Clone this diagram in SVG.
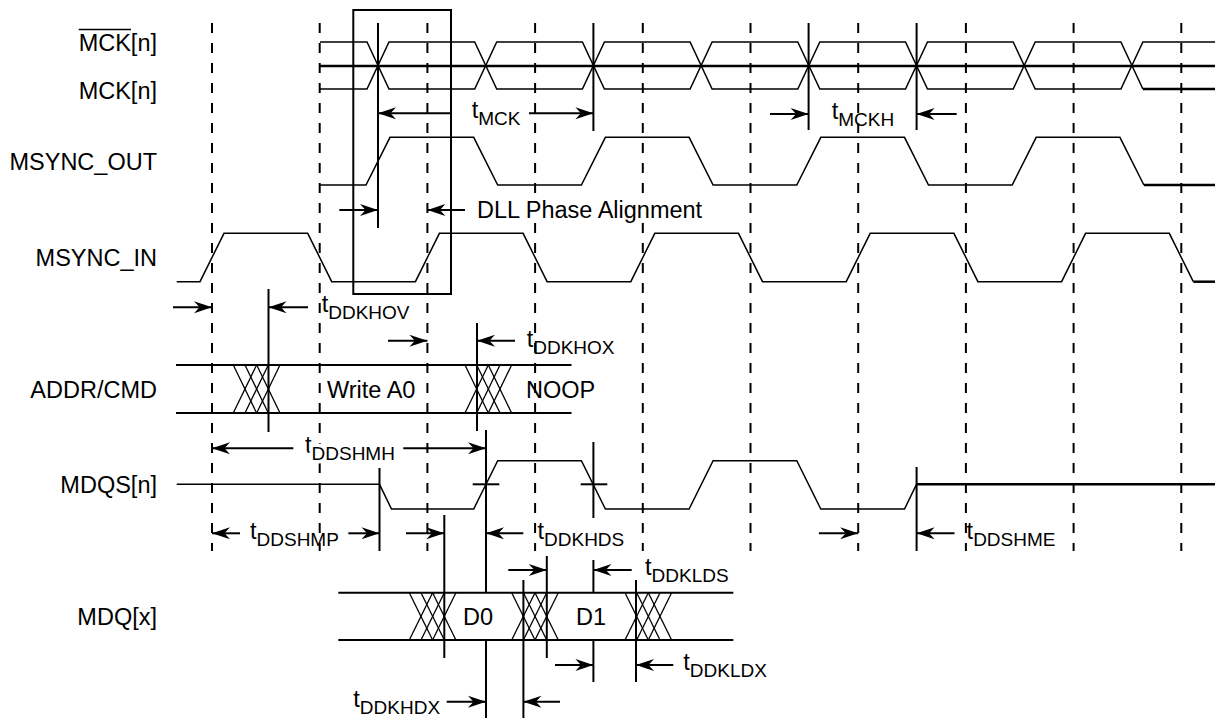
<svg xmlns="http://www.w3.org/2000/svg" width="1215" height="719" viewBox="0 0 1215 719">
<style>
text{font-family:"Liberation Sans",Arial,sans-serif;font-size:23.5px;fill:#000}
.lbl{text-anchor:end}
.sub{font-size:19px}
.halo{paint-order:stroke;stroke:#fff;stroke-width:7px;stroke-linejoin:round}
.sig{fill:none;stroke:#000;stroke-width:1.5;stroke-linejoin:miter}
.thick{fill:none;stroke:#000;stroke-width:2.5}
.bus{stroke:#000;stroke-width:2}
.xl{stroke:#000;stroke-width:1.3}
.dash{stroke:#000;stroke-width:2;stroke-dasharray:10 10}
.vl{stroke:#000;stroke-width:2}
.arr{stroke:#000;stroke-width:2;marker-end:url(#ah)}
.box{fill:none;stroke:#000;stroke-width:2}
</style>
<defs>
<marker id="ah" viewBox="-19 -7 20 14" refX="0" refY="0" markerWidth="20" markerHeight="14" markerUnits="userSpaceOnUse" orient="auto">
<path d="M0,0 L-18,-6 L-12.5,0 L-18,6 Z" fill="#000"/>
</marker>
</defs>
<rect width="1215" height="719" fill="#fff"/>

<g id="grid">
<line class="dash" x1="212" y1="23" x2="212" y2="551"/>
<line class="dash" x1="319.7" y1="23" x2="319.7" y2="551"/>
<line class="dash" x1="427.4" y1="23" x2="427.4" y2="551"/>
<line class="dash" x1="535.1" y1="23" x2="535.1" y2="551"/>
<line class="dash" x1="642.8" y1="23" x2="642.8" y2="551"/>
<line class="dash" x1="750.5" y1="23" x2="750.5" y2="551"/>
<line class="dash" x1="858.2" y1="23" x2="858.2" y2="551"/>
<line class="dash" x1="965.9" y1="23" x2="965.9" y2="551"/>
<line class="dash" x1="1073.6" y1="23" x2="1073.6" y2="551"/>
<line class="dash" x1="1181.3" y1="23" x2="1181.3" y2="551"/>
</g>

<g id="mck_bar">
<text class="lbl" x="157" y="51">MCK[n]</text>
<line x1="78.7" y1="29.5" x2="131" y2="29.5" stroke="#000" stroke-width="1.6"/>
<path class="sig" d="M320,42 L367,42 L389,89 L474.7,89 L496.7,42 L582.4,42 L604.4,89 L690.1,89 L712.1,42 L797.8,42 L819.8,89 L905.5,89 L927.5,42 L1013.2,42 L1035.2,89 L1120.9,89 L1142.9,42 L1215,42"/>
</g>
<g id="mck">
<text class="lbl" x="157" y="99">MCK[n]</text>
<path class="sig" d="M320,89 L367,89 L389,42 L474.7,42 L496.7,89 L582.4,89 L604.4,42 L690.1,42 L712.1,89 L797.8,89 L819.8,42 L905.5,42 L927.5,89 L1013.2,89 L1035.2,42 L1120.9,42 L1142.9,89"/>
<line class="thick" x1="1142.9" y1="89" x2="1215" y2="89"/>
<line class="thick" x1="320" y1="66" x2="1215" y2="66"/>
</g>

<g id="msync_out">
<text class="lbl" x="157" y="170">MSYNC_OUT</text>
<path class="sig" d="M320,185 L366,185 L390,137.3 L473.7,137.3 L497.7,185 L581.4,185 L605.4,137.3 L689.1,137.3 L713.1,185 L796.8,185 L820.8,137.3 L904.5,137.3 L928.5,185 L1012.2,185 L1036.2,137.3 L1119.9,137.3 L1143.9,185"/>
<line class="thick" x1="1143.9" y1="185" x2="1215" y2="185"/>
</g>

<g id="msync_in">
<text class="lbl" x="157" y="266">MSYNC_IN</text>
<path class="sig" d="M176.7,281.7 L200,281.7 L224,233.3 L307.7,233.3 L331.7,281.7 L415.4,281.7 L439.4,233.3 L523.1,233.3 L547.1,281.7 L630.8,281.7 L654.8,233.3 L738.5,233.3 L762.5,281.7 L846.2,281.7 L870.2,233.3 L953.9,233.3 L977.9,281.7 L1061.6,281.7 L1085.6,233.3 L1169.3,233.3 L1193.3,281.7"/>
<line class="thick" x1="1193.3" y1="281.7" x2="1215" y2="281.7"/>
</g>

<g id="dll_box">
<rect class="box" x="353.3" y="10" width="97.7" height="284"/>
</g>

<g id="addr_cmd">
<text class="lbl" x="157" y="397.5">ADDR/CMD</text>
<line class="bus" x1="176" y1="365" x2="571.5" y2="365"/>
<line class="bus" x1="176" y1="413" x2="571.5" y2="413"/>
<g class="xl">
<line x1="233.3" y1="365" x2="256.6" y2="413"/><line x1="256.6" y1="365" x2="233.3" y2="413"/>
<line x1="245" y1="365" x2="268.3" y2="413"/><line x1="268.3" y1="365" x2="245" y2="413"/>
<line x1="256.7" y1="365" x2="280" y2="413"/><line x1="280" y1="365" x2="256.7" y2="413"/>
<line x1="465" y1="365" x2="488.3" y2="413"/><line x1="488.3" y1="365" x2="465" y2="413"/>
<line x1="476.7" y1="365" x2="500" y2="413"/><line x1="500" y1="365" x2="476.7" y2="413"/>
<line x1="488.3" y1="365" x2="511.6" y2="413"/><line x1="511.6" y1="365" x2="488.3" y2="413"/>
</g>
<text x="327" y="397.5">Write A0</text>
<text x="526" y="397.5">NOOP</text>
</g>

<g id="mdqs">
<text class="lbl" x="157" y="493">MDQS[n]</text>
<path class="sig" d="M176.7,484.3 L379.5,484.3 L391.5,509 L473.7,509 L497.7,460.7 L581.4,460.7 L605.4,509 L689.1,509 L713.1,460.7 L796.8,460.7 L820.8,509 L904.5,509 L916.5,484.3"/>
<line class="thick" x1="916.5" y1="484.3" x2="1215" y2="484.3"/>
<line class="vl" x1="472.7" y1="484.3" x2="499.3" y2="484.3"/>
<line class="vl" x1="580.7" y1="484.3" x2="607.3" y2="484.3"/>
</g>

<g id="mdq">
<text class="lbl" x="157" y="625">MDQ[x]</text>
<line class="bus" x1="338.3" y1="592.7" x2="733.3" y2="592.7"/>
<line class="bus" x1="338.3" y1="640" x2="733.3" y2="640"/>
<g class="xl">
<line x1="409.3" y1="592.7" x2="432.6" y2="640"/><line x1="432.6" y1="592.7" x2="409.3" y2="640"/>
<line x1="421" y1="592.7" x2="444.3" y2="640"/><line x1="444.3" y1="592.7" x2="421" y2="640"/>
<line x1="432.6" y1="592.7" x2="455.9" y2="640"/><line x1="455.9" y1="592.7" x2="432.6" y2="640"/>
<line x1="511.7" y1="592.7" x2="535" y2="640"/><line x1="535" y1="592.7" x2="511.7" y2="640"/>
<line x1="523.4" y1="592.7" x2="546.7" y2="640"/><line x1="546.7" y1="592.7" x2="523.4" y2="640"/>
<line x1="535" y1="592.7" x2="558.3" y2="640"/><line x1="558.3" y1="592.7" x2="535" y2="640"/>
<line x1="625" y1="592.7" x2="648.3" y2="640"/><line x1="648.3" y1="592.7" x2="625" y2="640"/>
<line x1="636.7" y1="592.7" x2="660" y2="640"/><line x1="660" y1="592.7" x2="636.7" y2="640"/>
<line x1="648.3" y1="592.7" x2="671.6" y2="640"/><line x1="671.6" y1="592.7" x2="648.3" y2="640"/>
</g>
<text x="463" y="624.5">D0</text>
<text x="576" y="624.5">D1</text>
</g>

<g id="connectors">
<line class="vl" x1="378" y1="23" x2="378" y2="228"/>
<line class="vl" x1="593.4" y1="23" x2="593.4" y2="131"/>
<line class="vl" x1="808.6" y1="23" x2="808.6" y2="130"/>
<line class="vl" x1="916.6" y1="23" x2="916.6" y2="130"/>
<line class="vl" x1="268.5" y1="289" x2="268.5" y2="432"/>
<line class="vl" x1="477" y1="323" x2="477" y2="431"/>
<line class="vl" x1="379.5" y1="468" x2="379.5" y2="551"/>
<line class="vl" x1="486" y1="430" x2="486" y2="592.7"/>
<line class="vl" x1="486" y1="640" x2="486" y2="718"/>
<line class="vl" x1="593.4" y1="442" x2="593.4" y2="518"/>
<line class="vl" x1="593.4" y1="560" x2="593.4" y2="592.7"/>
<line class="vl" x1="593.4" y1="640" x2="593.4" y2="682"/>
<line class="vl" x1="444.3" y1="515" x2="444.3" y2="658"/>
<line class="vl" x1="916.6" y1="467" x2="916.6" y2="551"/>
<line class="vl" x1="523.4" y1="580" x2="523.4" y2="718"/>
<line class="vl" x1="546.8" y1="556" x2="546.8" y2="658"/>
<line class="vl" x1="636" y1="580" x2="636" y2="682"/>

<line class="arr" x1="452" y1="113.3" x2="378" y2="113.3"/>
<line class="arr" x1="529" y1="113.3" x2="593.4" y2="113.3"/>
<line class="arr" x1="770" y1="114" x2="808.6" y2="114"/>
<line class="arr" x1="956.7" y1="114" x2="916.6" y2="114"/>
<line class="arr" x1="339.3" y1="210" x2="378" y2="210"/>
<line class="arr" x1="465" y1="210" x2="427.4" y2="210"/>
<line class="arr" x1="173" y1="307.3" x2="212" y2="307.3"/>
<line class="arr" x1="308" y1="307.3" x2="268.5" y2="307.3"/>
<line class="arr" x1="388" y1="340.7" x2="427.4" y2="340.7"/>
<line class="arr" x1="515" y1="340.7" x2="477" y2="340.7"/>
<line class="arr" x1="293.3" y1="448.3" x2="212" y2="448.3"/>
<line class="arr" x1="403.3" y1="448.3" x2="486" y2="448.3"/>
<line class="arr" x1="240" y1="533.3" x2="212" y2="533.3"/>
<line class="arr" x1="348.3" y1="533.3" x2="379.5" y2="533.3"/>
<line class="arr" x1="406" y1="533.3" x2="444.3" y2="533.3"/>
<line class="arr" x1="523.3" y1="533.3" x2="486" y2="533.3"/>
<line class="arr" x1="818.9" y1="533.3" x2="858.2" y2="533.3"/>
<line class="arr" x1="954.5" y1="533.3" x2="916.6" y2="533.3"/>
<line class="arr" x1="508.3" y1="570" x2="546.8" y2="570"/>
<line class="arr" x1="631.7" y1="570" x2="593.4" y2="570"/>
<line class="arr" x1="555" y1="665" x2="593.4" y2="665"/>
<line class="arr" x1="673.3" y1="665" x2="636" y2="665"/>
<line class="arr" x1="446.7" y1="701.7" x2="486" y2="701.7"/>
<line class="arr" x1="560" y1="701.7" x2="523.4" y2="701.7"/>

<text x="471.7" y="118.3">t<tspan class="sub" dy="7">MCK</tspan></text>
<text x="831.7" y="119">t<tspan class="sub" dy="7">MCKH</tspan></text>
<text class="halo" x="477" y="218.3">DLL Phase Alignment</text>
<text x="321.7" y="312">t<tspan class="sub" dy="7">DDKHOV</tspan></text>
<text x="526.7" y="346.5">t<tspan class="sub" dy="7">DDKHOX</tspan></text>
<text class="halo" x="305" y="453.3">t<tspan class="sub" dy="7">DDSHMH</tspan></text>
<text x="250" y="538.5">t<tspan class="sub" dy="7">DDSHMP</tspan></text>
<text x="537.5" y="539">t<tspan class="sub" dy="7">DDKHDS</tspan></text>
<text x="966.6" y="539">t<tspan class="sub" dy="7">DDSHME</tspan></text>
<text x="645" y="575">t<tspan class="sub" dy="7">DDKLDS</tspan></text>
<text x="683.3" y="670">t<tspan class="sub" dy="7">DDKLDX</tspan></text>
<text x="353.3" y="706.7">t<tspan class="sub" dy="7">DDKHDX</tspan></text>
</g>
</svg>
